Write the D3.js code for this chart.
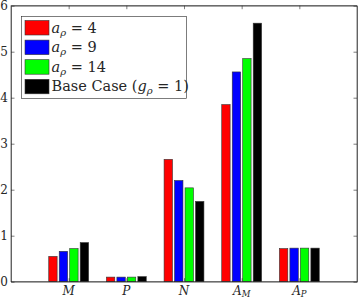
<!DOCTYPE html>
<html>
<head>
<meta charset="utf-8">
<script src="https://cdn.jsdelivr.net/npm/d3@7"></script>
<style>
  body { margin: 0; background: #fff; }
  svg text { font-family: "DejaVu Serif", serif; fill: #262626; }
</style>
</head>
<body>
<svg id="chart" width="360" height="300"></svg>
<script>
// categories and series
const categories = ["M", "P", "N", "A_M", "A_P"];
const seriesNames = ["4", "9", "14", "base"];
const seriesColors = ["#ff0000", "#0000ff", "#00ff00", "#000000"];
const aRho4 = [0.55, 0.10, 2.66, 3.85, 0.72];
const aRho9 = [0.66, 0.10, 2.20, 4.56, 0.73];
const aRho14 = [0.72, 0.10, 2.04, 4.85, 0.73];
const baseCase = [0.85, 0.11, 1.745, 5.62, 0.73];
const yTicks = [0, 1, 2, 3, 4, 5, 6];

const series = [aRho4, aRho9, aRho14, baseCase];

const svg = d3.select("#chart");
const pLeft = 11, pRight = 357, pTop = 5.7, pBottom = 281.7;

const x = d3.scaleLinear().domain([0, 6]).range([pLeft, pRight]);
const y = d3.scaleLinear().domain([0, 6]).range([pBottom, pTop]);

// grouped bars, matlab style
const groupWidth = Math.min(0.8, 4 / (4 + 1.5));
const step = groupWidth / 4;
const barW = (x(step * 0.8) - x(0));

series.forEach(function (vals, s) {
  svg.append("g").selectAll("rect").data(vals).enter().append("rect")
    .attr("x", function (d, i) { return x(i + 1 + (s - 1.5) * step) - barW / 2; })
    .attr("y", function (d) { return y(d); })
    .attr("width", barW)
    .attr("height", function (d) { return y(0) - y(d); })
    .attr("fill", seriesColors[s])
    .attr("stroke", "#333")
    .attr("stroke-width", 0.6);
});

// axes with inward ticks
const tickLen = 3.5;
svg.append("g").attr("transform", "translate(" + pLeft + ",0)")
  .call(d3.axisLeft(y).tickValues(yTicks).tickSizeInner(-tickLen).tickSizeOuter(0).tickPadding(3).tickFormat(d3.format("d")))
  .call(function (g) { g.selectAll("text").style("font-size", "12px"); });
svg.append("g").attr("transform", "translate(" + pRight + ",0)")
  .call(d3.axisRight(y).tickValues(yTicks).tickSizeInner(-tickLen).tickSizeOuter(0).tickFormat(""));
svg.append("g").attr("transform", "translate(0," + pBottom + ")")
  .call(d3.axisBottom(x).tickValues([1, 2, 3, 4, 5]).tickSizeInner(-tickLen).tickSizeOuter(0).tickFormat(""));
svg.append("g").attr("transform", "translate(0," + pTop + ")")
  .call(d3.axisTop(x).tickValues([1, 2, 3, 4, 5]).tickSizeInner(-tickLen).tickSizeOuter(0).tickFormat(""));
svg.selectAll("g").attr("font-family", null);
svg.selectAll(".domain, .tick line").attr("stroke", "#262626").attr("stroke-width", 0.6);
svg.append("rect").attr("x", pLeft).attr("y", pTop).attr("width", pRight - pLeft).attr("height", pBottom - pTop)
  .attr("fill", "none").attr("stroke", "#262626").attr("stroke-width", 0.6);

// category labels
categories.forEach(function (c, i) {
  const parts = c.split("_");
  const t = svg.append("text")
    .attr("x", x(i + 1))
    .attr("y", pBottom + 13.5)
    .attr("text-anchor", "middle")
    .style("font-size", "12px")
    .style("font-style", "italic");
  t.append("tspan").text(parts[0]);
  if (parts[1]) {
    t.append("tspan").attr("dy", 2).style("font-size", "8.5px").text(parts[1]);
  }
});

// legend
const lg = svg.append("g");
lg.append("rect").attr("x", 21.5).attr("y", 16.5).attr("width", 165).attr("height", 82)
  .attr("fill", "#fff").attr("stroke", "#262626").attr("stroke-width", 0.6);
seriesNames.forEach(function (n, s) {
  const yy = 20.5 + s * 19.6;
  lg.append("rect").attr("x", 25).attr("y", yy).attr("width", 24).attr("height", 14.5)
    .attr("fill", seriesColors[s]).attr("stroke", "#333").attr("stroke-width", 0.6);
  const t = lg.append("text").attr("x", 51.5).attr("y", yy + 12).style("font-size", "14.5px");
  if (n === "base") {
    t.append("tspan").text("Base Case (");
    t.append("tspan").style("font-style", "italic").text("g");
    t.append("tspan").attr("dy", 3).style("font-size", "10px").style("font-style", "italic").text("ρ");
    t.append("tspan").attr("dy", -3).text(" = 1)");
  } else {
    t.append("tspan").style("font-style", "italic").text("a");
    t.append("tspan").attr("dy", 3).style("font-size", "10px").style("font-style", "italic").text("ρ");
    t.append("tspan").attr("dy", -3).text(" = " + n);
  }
});
</script>
</body>
</html>
